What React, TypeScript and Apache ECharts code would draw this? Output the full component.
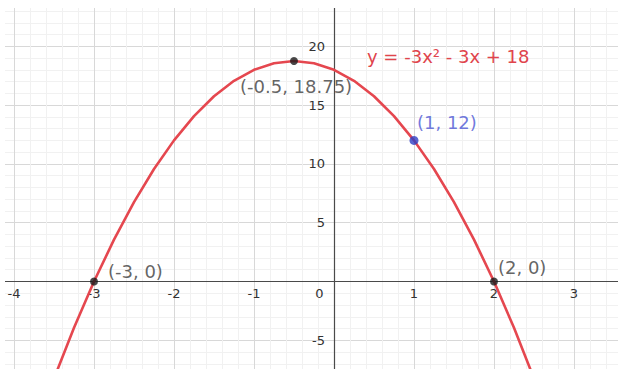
import React, { useEffect, useRef } from "react";
import * as echarts from "echarts";

// Equation label and plotted values
const equationText = "y = -3x² - 3x + 18";
const curveX = [
  -3.75, -3.5, -3.25, -3, -2.75, -2.5, -2.25, -2, -1.75, -1.5, -1.25, -1, -0.75,
  -0.5, -0.25, 0, 0.25, 0.5, 0.75, 1, 1.25, 1.5, 1.75, 2, 2.25, 2.5, 2.75,
];
const curveY = [
  -12.9375, -8.25, -3.9375, 0, 3.5625, 6.75, 9.5625, 12, 14.0625, 15.75, 17.0625,
  18, 18.5625, 18.75, 18.5625, 18, 17.0625, 15.75, 14.0625, 12, 9.5625, 6.75,
  3.5625, 0, -3.9375, -8.25, -12.9375,
];
const blackPoints: [number, number][] = [
  [-3, 0],
  [-0.5, 18.75],
  [2, 0],
];
const blackLabels = ["(-3, 0)", "(-0.5, 18.75)", "(2, 0)"];
const bluePoints: [number, number][] = [[1, 12]];
const blueLabels = ["(1, 12)"];

// axis ranges / ticks (labels shown only for the visible tick values)
const xRange = [-5, 4];
const xStep = 1;
const xTickLabels = [-4, -3, -2, -1, 0, 1, 2, 3];
const yRange = [-10, 25];
const yStep = 5;
const yTickLabels = [-5, 5, 10, 15, 20];

// styling (pixel sizes / offsets)
const PX_PER_X = 80;
const PX_PER_Y = 11.76;
const blackLabelOffsets: [number, number][] = [
  [14, -10.5],
  [-54, 25],
  [4, -14],
];
const blueLabelOffsets: [number, number][] = [[3, -17.5]];

const FONT = "DejaVu Sans";

export default function App() {
  const ref = useRef<HTMLDivElement>(null);
  useEffect(() => {
    if (!ref.current) return;
    const chart = echarts.init(ref.current, undefined, { renderer: "svg" });
    const curve = curveX.map((x, i) => [x, curveY[i]]);
    const mkLabel = (color: string, off: [number, number]) => ({
      show: true,
      position: "inside",
      align: "left",
      verticalAlign: "middle",
      offset: off,
      color,
      fontFamily: FONT,
      fontSize: 18,
    });
    const xAxisOffset = -(0 - yRange[0]) * PX_PER_Y;
    const yAxisOffset = -(0 - xRange[0]) * PX_PER_X;
    chart.setOption({
      animation: false,
      backgroundColor: "#ffffff",
      grid: {
        left: 9,
        right: 14,
        top: 9.5,
        bottom: 14.9,
        containLabel: false,
        outerBoundsMode: "none",
      },
      xAxis: {
        type: "value",
        position: "bottom",
        offset: xAxisOffset,
        min: xRange[0],
        max: xRange[1],
        interval: xStep,
        axisLine: { show: true, onZero: false, lineStyle: { color: "#4a4a4a", width: 1.2 } },
        axisTick: { show: false },
        showMinLabel: false,
        showMaxLabel: false,
        axisLabel: {
          color: "#333333",
          fontFamily: FONT,
          fontSize: 13,
          margin: 5,
          formatter: (v: number) =>
            xTickLabels.indexOf(v) < 0 ? "" : v === 0 ? "{z|0}" : String(v),
          rich: { z: { padding: [0, 29, 0, 0], color: "#333333", fontFamily: FONT, fontSize: 13 } },
        },
        splitLine: { show: true, lineStyle: { color: "#d8d8d8", width: 1 } },
        minorTick: { show: false, splitNumber: 5 },
        minorSplitLine: { show: true, lineStyle: { color: "#f1f1f1", width: 1 } },
      },
      yAxis: {
        type: "value",
        position: "left",
        offset: yAxisOffset,
        min: yRange[0],
        max: yRange[1],
        interval: yStep,
        axisLine: { show: true, onZero: false, lineStyle: { color: "#4a4a4a", width: 1.2 } },
        axisTick: { show: false },
        showMinLabel: false,
        showMaxLabel: false,
        axisLabel: {
          color: "#333333",
          fontFamily: FONT,
          fontSize: 13,
          margin: 9,
          formatter: (v: number) => (yTickLabels.indexOf(v) < 0 ? "" : String(v)),
        },
        splitLine: { show: true, lineStyle: { color: "#d8d8d8", width: 1 } },
        minorTick: { show: false, splitNumber: 5 },
        minorSplitLine: { show: true, lineStyle: { color: "#f1f1f1", width: 1 } },
      },
      graphic: [
        {
          type: "text",
          x: 442,
          y: 78.5,
          z: 100,
          style: {
            text: equationText,
            fill: "#e0444c",
            fontFamily: FONT,
            fontSize: 18,
            align: "left",
            verticalAlign: "middle",
          },
        },
      ],
      series: [
        {
          type: "line",
          data: curve,
          showSymbol: false,
          smooth: false,
          clip: true,
          lineStyle: { color: "#e5474f", width: 2.6 },
          z: 3,
        },
        {
          type: "scatter",
          symbolSize: 8,
          itemStyle: { color: "#1c1c1c" },
          z: 4,
          data: blackPoints.map((p, i) => ({
            value: p,
            label: { ...mkLabel("#3c3c3c", blackLabelOffsets[i]), formatter: blackLabels[i] },
          })),
        },
        {
          type: "scatter",
          symbolSize: 9,
          itemStyle: { color: "#2f3ec4" },
          z: 4,
          data: bluePoints.map((p, i) => ({
            value: p,
            label: { ...mkLabel("#4b56d4", blueLabelOffsets[i]), formatter: blueLabels[i] },
          })),
        },
      ],
    });
    return () => chart.dispose();
  }, []);
  return (
    <div
      style={{
        position: "absolute",
        left: 5,
        top: 8,
        width: 613,
        height: 361,
        overflow: "hidden",
        background: "#fff",
      }}
    >
      <div
        ref={ref}
        style={{ position: "absolute", left: -80, top: -30, width: 743, height: 436 }}
      />
    </div>
  );
}
